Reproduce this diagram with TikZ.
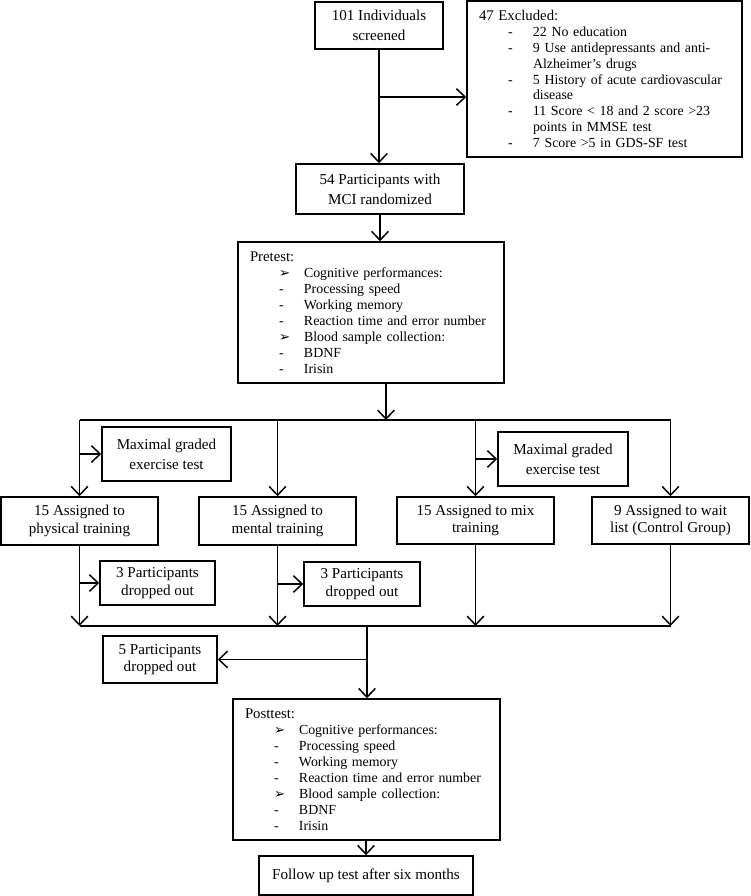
\documentclass[tikz,border=0pt]{standalone}
\usepackage{fontspec}
\setmainfont{Liberation Serif}
\newfontfamily\dingfont{DejaVu Sans}
\usetikzlibrary{shapes,arrows,arrows.meta}
\tikzstyle{flowbox} = [rectangle, minimum width=3.14cm, minimum height=0.96cm, text centered, align=center, draw=black, inner sep=1pt, font=\fontsize{8.6}{9.9}\selectfont]
\tikzstyle{tallbox} = [flowbox, font=\fontsize{8.6}{11.3}\selectfont]
\tikzstyle{listbox} = [rectangle, draw=black, inner xsep=0.24cm, inner ysep=0pt, align=left, font=\fontsize{7.9}{9.07}\selectfont]
\tikzstyle{arrow} = [-{Straight Barb[length=5pt,width=9.5pt]}]
\newcommand{\li}[2]{\hspace*{0.58cm}\makebox[0.5cm][l]{#1}#2}
\newcommand{\tip}{{\dingfont\fontsize{7.5}{7.5}\selectfont ➢}}
\newcommand{\head}[1]{{\fontsize{8.4}{9.07}\selectfont #1}}

\begin{document}
\begin{tikzpicture}[node distance=3.27cm, line width=0.85pt]
\useasboundingbox (0,0) rectangle (15,-17.92);
\node (screened) [tallbox, minimum width=2.56cm, minimum height=0.94cm] at (7.58,-0.51) {101 Individuals\\screened};
\node (excl) [listbox, right of=screened, xshift=1.24cm, yshift=-1.07cm, text width=5.02cm, minimum height=3.12cm] {\head{47 Excluded:}\\
\li{-}{22 No education}\\
\li{-}{9 Use antidepressants and anti-}\\
\hspace*{1.08cm}Alzheimer's drugs\\
\li{-}{5 History of acute cardiovascular}\\
\hspace*{1.08cm}disease\\
\li{-}{11 Score < 18 and 2 score >23}\\
\hspace*{1.08cm}points in MMSE test\\
\li{-}{7 Score >5 in GDS-SF test}};
\node (rand) [tallbox, below of=screened, xshift=0.02cm, minimum width=3.36cm, minimum height=1.0cm] {54 Participants with\\MCI randomized};
\node (pretest) [listbox, below of=rand, xshift=-0.18cm, yshift=0.80cm, text width=4.84cm, minimum height=2.82cm] {\head{Pretest:}\\
\li{\tip}{Cognitive performances:}\\
\li{-}{Processing speed}\\
\li{-}{Working memory}\\
\li{-}{Reaction time and error number}\\
\li{\tip}{Blood sample collection:}\\
\li{-}{BDNF}\\
\li{-}{Irisin}};
\node (ment) [flowbox, below of=pretest, xshift=-1.87cm, yshift=-0.90cm] {15 Assigned to\\mental training};
\node (phys) [flowbox, left of=ment, xshift=-0.69cm] {15 Assigned to\\physical training};
\node (mix) [flowbox, right of=ment, xshift=0.69cm, yshift=0.01cm, minimum height=0.94cm] {15 Assigned to mix\\training};
\node (wait) [flowbox, right of=mix, xshift=0.63cm, minimum height=0.94cm] {9 Assigned to wait\\list (Control Group)};
\node (max1) [tallbox, above of=phys, xshift=1.74cm, yshift=-1.93cm, minimum width=2.58cm, minimum height=1.08cm] {Maximal graded\\exercise test};
\node (max2) [tallbox, above of=mix, xshift=1.75cm, yshift=-2.04cm, minimum width=2.60cm, minimum height=1.08cm] {Maximal graded\\exercise test};
\node (drop1) [flowbox, below of=phys, xshift=1.56cm, yshift=2.03cm, minimum width=2.30cm, minimum height=0.88cm] {3 Participants\\dropped out};
\node (drop2) [flowbox, below of=ment, xshift=1.69cm, yshift=2.01cm, minimum width=2.32cm, minimum height=0.88cm] {3 Participants\\dropped out};
\node (post) [listbox, below of=pretest, xshift=-0.09cm, yshift=-5.87cm, text width=4.86cm, minimum height=2.82cm] {\head{Posttest:}\\
\li{\tip}{Cognitive performances:}\\
\li{-}{Processing speed}\\
\li{-}{Working memory}\\
\li{-}{Reaction time and error number}\\
\li{\tip}{Blood sample collection:}\\
\li{-}{BDNF}\\
\li{-}{Irisin}};
\node (drop5) [flowbox, left of=post, xshift=-0.86cm, yshift=2.20cm, minimum width=2.28cm, minimum height=0.94cm] {5 Participants\\dropped out};
\node (follow) [flowbox, below of=post, xshift=-0.01cm, yshift=1.15cm, minimum width=4.28cm, minimum height=0.78cm] {Follow up test after six months};

\coordinate (exjoin) at (7.58,-1.94);
\coordinate (split) at (7.72,-8.40);
\coordinate (merge) at (7.34,-12.52);

\draw [arrow] (screened.south) -- (screened.south |- rand.north);
\draw [arrow] (exjoin) -- (exjoin -| excl.west);
\draw [arrow] (rand.south) -- (rand.south |- pretest.north);
\draw [arrow] (pretest.south -| split) -- (split);
\draw (phys.north |- split) -- (wait.north |- split);
\draw [arrow] (phys.north |- split) -- (phys.north);
\draw [arrow] (ment.north |- split) -- (ment.north);
\draw [arrow] (mix.north |- split) -- (mix.north);
\draw [arrow] (wait.north |- split) -- (wait.north);
\draw [arrow] (phys.north |- max1.west) -- (max1.west);
\draw [arrow] (mix.north |- max2.west) -- (max2.west);
\draw (phys.south |- merge) -- (wait.south |- merge);
\draw [arrow] (phys.south) -- (phys.south |- merge);
\draw [arrow] (ment.south) -- (ment.south |- merge);
\draw [arrow] (mix.south) -- (mix.south |- merge);
\draw [arrow] (wait.south) -- (wait.south |- merge);
\draw [arrow] (phys.south |- drop1.west) -- (drop1.west);
\draw [arrow] (ment.south |- drop2.west) -- (drop2.west);
\draw [arrow] (merge) -- (merge |- post.north);
\draw [arrow] (merge |- drop5.east) -- (drop5.east);
\draw [arrow] (post.south -| follow.north) -- (follow.north);

\end{tikzpicture}
\end{document}
